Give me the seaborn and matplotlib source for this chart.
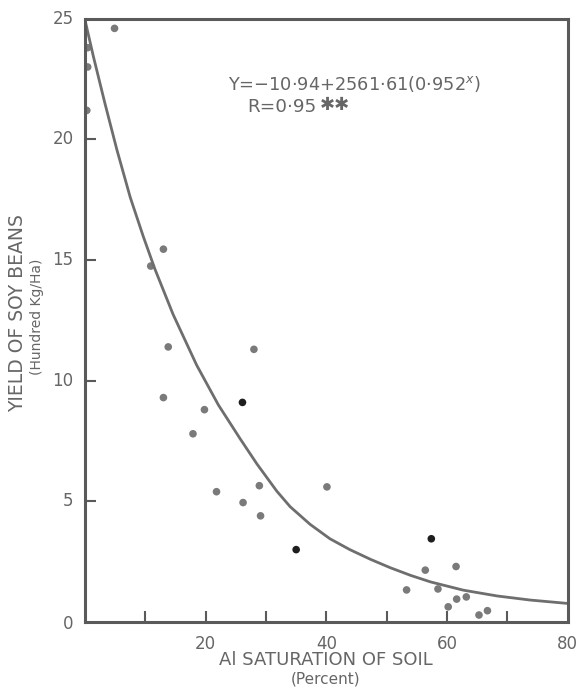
import matplotlib
matplotlib.use("Agg")
import matplotlib.pyplot as plt
import seaborn as sns

# Observed data points (Al saturation %, yield hundred kg/ha)
obs_x = [0.3, 0.45, 0.45, 4.9, 10.9, 13.0, 13.8, 13.0, 19.8, 17.9, 28.0, 21.8, 26.2, 28.9,
         29.1, 40.1, 56.4, 61.5, 53.3, 58.5, 61.6, 63.2, 60.2, 65.3, 66.7]
obs_y = [21.2, 23.0, 23.8, 24.6, 14.75, 15.45, 11.4, 9.3, 8.8, 7.8, 11.3, 5.4, 4.95, 5.65,
         4.4, 5.6, 2.15, 2.3, 1.33, 1.37, 0.95, 1.04, 0.63, 0.29, 0.47]
# Darker points
dark_x = [26.1, 35.0, 57.4]
dark_y = [9.1, 3.0, 3.45]

# Fitted curve
curve_x = [0, 1.4, 3.3, 5.3, 7.5, 9.7, 11.6, 14.6, 18.5, 22.1, 25.7, 28.5, 31.8, 34.0,
           37.3, 40.6, 43.9, 47.3, 50.6, 54.0, 57.3, 62.7, 68.3, 73.8, 80.0]
curve_y = [24.95, 23.43, 21.5, 19.56, 17.6, 15.95, 14.62, 12.75, 10.65, 9.0, 7.6, 6.55, 5.42, 4.78,
           4.05, 3.45, 3.0, 2.6, 2.25, 1.93, 1.66, 1.32, 1.08, 0.91, 0.77]

x_tick_labels = ["20", "40", "60", "80"]
x_tick_pos = [20, 40, 60, 80]
y_tick_labels = ["0", "5", "10", "15", "20", "25"]
y_tick_pos = [0, 5, 10, 15, 20, 25]

sns.set_style("white")
plt.rcParams['font.family'] = ['DejaVu Sans']

fig = plt.figure(figsize=(5.82, 6.88), dpi=100)
ax = fig.add_axes([0.146, 0.0959, 0.8294, 0.8769])

gray = "#6e6e6e"
sns.lineplot(x=curve_x, y=curve_y, ax=ax, color=gray, linewidth=2.0, sort=False,
             solid_joinstyle="round")
sns.scatterplot(x=obs_x, y=obs_y, ax=ax, color="#7a7a7a", s=30, edgecolor="none")
sns.scatterplot(x=dark_x, y=dark_y, ax=ax, color="#1e1e1e", s=30, edgecolor="none")

ax.set_xlim(0, 80)
ax.set_ylim(0, 25)
for sp in ax.spines.values():
    sp.set_visible(True)
    sp.set_color("#5a5a5a")
    sp.set_linewidth(2.2)

ax.set_xticks(list(range(10, 80, 10)))
ax.set_xticklabels([])
ax.set_yticks([5, 10, 15, 20])
ax.set_yticklabels([])
ax.tick_params(axis="both", direction="in", length=8, width=1.5, color="#5a5a5a",
               bottom=True, left=True, top=False, right=False)

# tick labels
tc = "#666666"
for v, lab in zip(x_tick_pos, x_tick_labels):
    ax.text(v, -0.9, lab, ha="center", va="center", fontsize=12, color=tc)
for v, lab in zip(y_tick_pos, y_tick_labels):
    yy = v if v > 0 else -0.1
    ax.text(-1.9, yy, lab, ha="right", va="center", fontsize=12, color=tc)

ax.set_xlabel("")
ax.set_ylabel("")
fig.text(0.56, 0.040, "Al SATURATION OF SOIL", ha="center", va="center", fontsize=13, color=tc)
fig.text(0.56, 0.013, "(Percent)", ha="center", va="center", fontsize=11, color=tc)
fig.text(0.030, 0.545, "YIELD OF SOY BEANS", ha="center", va="center", rotation=90, fontsize=13.5, color=tc)
fig.text(0.064, 0.54, "(Hundred Kg/Ha)", ha="center", va="center", rotation=90, fontsize=10, color=tc)

ax.text((228 - 85) / 6.03, (622 - 84) / 24.13, "Y=\u221210\u00b794+2561\u00b761(0\u00b7952$^{x}$)",
        fontsize=12.8, color=tc, ha="left", va="center")
rt = ax.text((247 - 85) / 6.03, (622 - 107) / 24.13, "R=0\u00b795", fontsize=13.2, color=tc,
             ha="left", va="center")
fig.canvas.draw()
bb = rt.get_window_extent()
ax.annotate("\u2731\u2731", xy=(bb.x1 + 4, bb.y1 - 7), xycoords="figure pixels",
            fontsize=13, color=tc, ha="left", va="center")

fig.savefig("out.png", dpi=100)
